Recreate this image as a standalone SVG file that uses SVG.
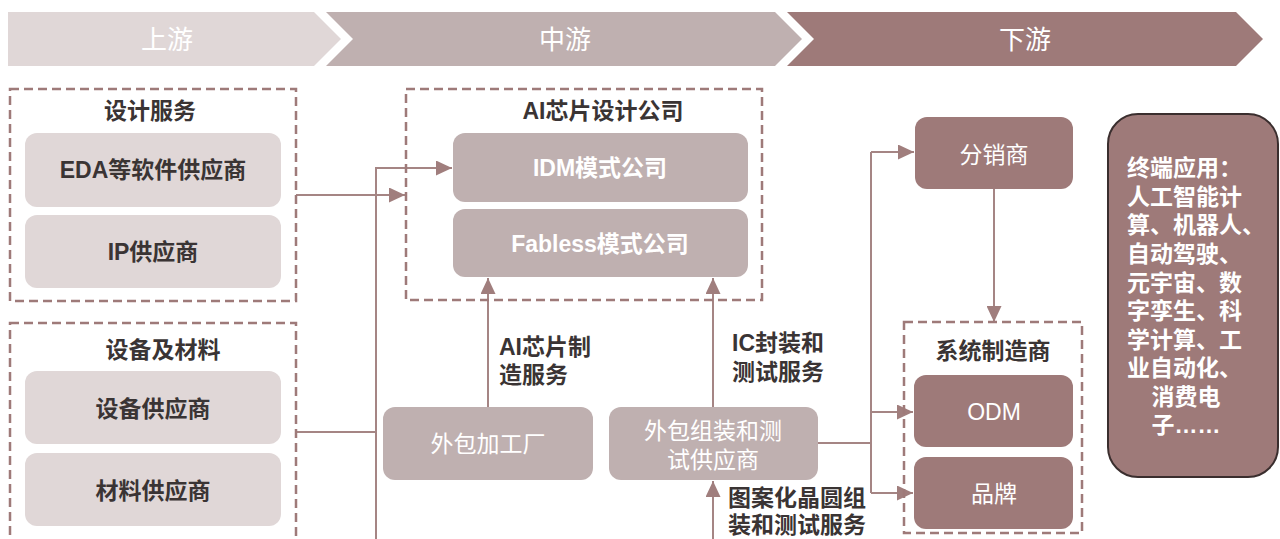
<svg xmlns="http://www.w3.org/2000/svg" width="1280" height="539" viewBox="0 0 1280 539">
<defs>
<style>
text{font-family:"Liberation Sans","Noto Sans CJK SC",sans-serif;font-size:23px;dominant-baseline:central;}
.c{text-anchor:middle;}
.b{font-weight:bold;}
.dk{fill:#3a3434;}
.wh{fill:#ffffff;}
.hd{font-size:26px;}
.light{fill:#e0d7d7;}
.mid{fill:#bfb0b0;}
.dark{fill:#9e7a79;}
.dash{fill:none;stroke:#9e7a79;stroke-width:2.5;stroke-dasharray:9 5;}
.ln{fill:none;stroke:#a58584;stroke-width:2;}
</style>
<marker id="ah" viewBox="0 0 16 15" refX="16" refY="7.5" markerWidth="16" markerHeight="15" markerUnits="userSpaceOnUse" orient="auto">
<path d="M0,0 L16,7.5 L0,15 z" fill="#a07e7d"/>
</marker>
</defs>
<rect width="1280" height="539" fill="#ffffff"/>

<g id="header">
<polygon class="light" points="8,12 314,12 341,39 314,66 8,66"/>
<polygon class="mid" points="326,12 775,12 802,39 775,66 326,66 353,39"/>
<polygon class="dark" points="787,12 1236,12 1263,39 1236,66 787,66 814,39"/>
<text class="c wh hd" x="167" y="40">上游</text>
<text class="c wh hd" x="565" y="40">中游</text>
<text class="c wh hd" x="1025" y="40">下游</text>
</g>

<g id="connectors">
<path class="ln" d="M296,195 H405" marker-end="url(#ah)"/>
<path class="ln" d="M376,541 V168 H452" marker-end="url(#ah)"/>
<path class="ln" d="M296,432 H376"/>
<path class="ln" d="M488,407 V278" marker-end="url(#ah)"/>
<path class="ln" d="M713,407 V278" marker-end="url(#ah)"/>
<path class="ln" d="M713,541 V481" marker-end="url(#ah)"/>
<path class="ln" d="M818,443 H871"/>
<path class="ln" d="M871,493 V152"/>
<path class="ln" d="M871,152 H914" marker-end="url(#ah)"/>
<path class="ln" d="M871,412 H913" marker-end="url(#ah)"/>
<path class="ln" d="M871,493 H913" marker-end="url(#ah)"/>
<path class="ln" d="M994,189 V322" marker-end="url(#ah)"/>
</g>

<g id="design-services">
<rect class="dash" x="10" y="89" width="286" height="212"/>
<text class="c b dk" x="150" y="111">设计服务</text>
</g>
<g id="eda">
<rect class="light" x="25" y="133" width="256" height="74" rx="12"/>
<text class="c b dk" x="153" y="170">EDA等软件供应商</text>
</g>
<g id="ip">
<rect class="light" x="25" y="215" width="256" height="73" rx="12"/>
<text class="c b dk" x="153" y="252">IP供应商</text>
</g>

<g id="equipment-materials">
<rect class="dash" x="10" y="323" width="286" height="240"/>
<text class="c b dk" x="163" y="350">设备及材料</text>
</g>
<g id="equipment">
<rect class="light" x="25" y="371" width="256" height="73" rx="12"/>
<text class="c b dk" x="153" y="409">设备供应商</text>
</g>
<g id="materials">
<rect class="light" x="25" y="453" width="256" height="73" rx="12"/>
<text class="c b dk" x="153" y="491">材料供应商</text>
</g>

<g id="ai-chip-design">
<rect class="dash" x="406" y="89" width="356" height="211"/>
<text class="c b dk" x="603" y="111">AI芯片设计公司</text>
</g>
<g id="idm">
<rect class="mid" x="453" y="133" width="295" height="69" rx="12"/>
<text class="c b wh" x="600" y="168">IDM模式公司</text>
</g>
<g id="fabless">
<rect class="mid" x="453" y="209" width="295" height="68" rx="12"/>
<text class="c b wh" x="600" y="244">Fabless模式公司</text>
</g>

<g id="foundry">
<rect class="mid" x="383" y="407" width="210" height="73" rx="12"/>
<text class="c wh" x="488" y="444">外包加工厂</text>
</g>
<g id="osat">
<rect class="mid" x="609" y="407" width="209" height="73" rx="12"/>
<text class="c wh" x="713" y="431">外包组装和测</text>
<text class="c wh" x="713" y="460">试供应商</text>
</g>

<g id="labels">
<text class="b dk" x="499" y="347">AI芯片制</text>
<text class="b dk" x="499" y="375">造服务</text>
<text class="b dk" x="732" y="343">IC封装和</text>
<text class="b dk" x="732" y="372">测试服务</text>
<text class="b dk" x="728" y="498">图案化晶圆组</text>
<text class="b dk" x="728" y="525">装和测试服务</text>
</g>

<g id="distributor">
<rect class="dark" x="915" y="117" width="158" height="72" rx="12"/>
<text class="c wh" x="994" y="155">分销商</text>
</g>

<g id="system-makers">
<rect class="dash" x="904" y="322" width="178" height="211"/>
<text class="c b dk" x="993" y="351">系统制造商</text>
</g>
<g id="odm">
<rect class="dark" x="914" y="375" width="159" height="72" rx="12"/>
<text class="c wh" x="994" y="412">ODM</text>
</g>
<g id="brand">
<rect class="dark" x="914" y="457" width="159" height="72" rx="12"/>
<text class="c wh" x="994" y="494">品牌</text>
</g>

<g id="end-applications">
<rect x="1108" y="114" width="170" height="363" rx="30" fill="#9e7a79" stroke="#3a2e2e" stroke-width="2"/>
<text class="b wh" x="1127" y="168">终端应用：</text>
<text class="b wh" x="1127" y="197">人工智能计</text>
<text class="b wh" x="1127" y="225">算、机器人、</text>
<text class="b wh" x="1127" y="254">自动驾驶、</text>
<text class="b wh" x="1127" y="283">元宇宙、数</text>
<text class="b wh" x="1127" y="311">字孪生、科</text>
<text class="b wh" x="1127" y="340">学计算、工</text>
<text class="b wh" x="1127" y="368">业自动化、</text>
<text class="c b wh" x="1186" y="397">消费电</text>
<text class="c b wh" x="1186" y="425">子……</text>
</g>
</svg>
